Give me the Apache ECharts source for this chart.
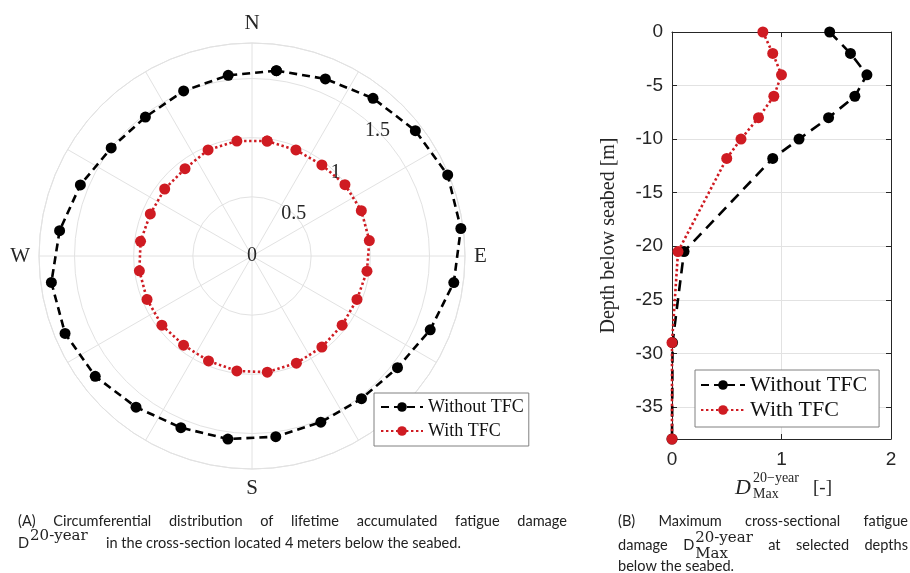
<!DOCTYPE html>
<html>
<head>
<meta charset="utf-8">
<script src="https://cdn.jsdelivr.net/npm/echarts@6/dist/echarts.min.js"></script>
<style>
  html, body { margin: 0; padding: 0; background: #ffffff; }
  #chart { width: 910px; height: 573px; }
</style>
</head>
<body>
<div id="chart"></div>
<script>
// ---- (A) circumferential damage, 4 m below seabed ----
const bearingDeg = [7.5, 22.5, 37.5, 52.5, 67.5, 82.5, 97.5, 112.5, 127.5, 142.5, 157.5, 172.5,
                    187.5, 202.5, 217.5, 232.5, 247.5, 262.5, 277.5, 292.5, 307.5, 322.5, 337.5, 352.5];
const circDamageNoTfc = [1.58, 1.62, 1.68, 1.74, 1.79, 1.78, 1.72, 1.63, 1.55, 1.52, 1.52, 1.54,
                         1.56, 1.57, 1.61, 1.67, 1.71, 1.71, 1.64, 1.57, 1.50, 1.48, 1.51, 1.54];
const circDamageTfc   = [0.98, 0.97, 0.97, 0.99, 1.00, 1.00, 0.98, 0.96, 0.96, 0.97, 0.98, 0.99,
                         0.98, 0.96, 0.95, 0.96, 0.96, 0.96, 0.95, 0.93, 0.93, 0.93, 0.97, 0.98];
const compassLabels = { 0: 'N', 90: 'E', 180: 'S', 270: 'W' };

// ---- (B) maximum cross-sectional damage vs depth ----
const depthBelowSeabed = [0, 2, 4, 6, 8, 10, 11.8, 20.5, 29, 38];   // metres
const maxDamageNoTfc   = [1.44, 1.63, 1.78, 1.67, 1.43, 1.16, 0.92, 0.11, 0.005, 0];
const maxDamageTfc     = [0.83, 0.92, 1.00, 0.93, 0.79, 0.63, 0.50, 0.055, 0, 0];

const seriesNames = ['Without TFC', 'With TFC'];

const SERIF = "'Liberation Serif', 'DejaVu Serif', serif";
const SANS = "'Liberation Sans', Arial, sans-serif";
const CAPTION_FONT = "16px Lato, 'Noto Sans', sans-serif";
const CAPTION_SQUEEZE = 0.91;           // captions are set narrow
const SCRIPT_FONT = "15px 'DejaVu Serif', serif";
const INK = '#262626';
const GRID = '#e2e2e2';
const RED = '#cf1b22';
const TEXT = '#222222';

function closedRing(radii) {
  const pts = bearingDeg.map((b, i) => [radii[i], b]);
  pts.push(pts[0]);
  return pts;
}

const dashedBlack = { color: '#000', width: 2.6, type: [8, 5] };
const dottedRed = { color: RED, width: 2.6, type: [2.4, 2.6] };

// ---------- caption layout helpers ----------
const measureCtx = document.createElement('canvas').getContext('2d');
function textWidth(txt, font) { measureCtx.font = font; return measureCtx.measureText(txt).width; }

function plainText(txt, x, yMid, font, sx) {
  return {
    type: 'text', x: x, y: yMid, scaleX: sx || 1,
    style: { text: txt, font: font, fill: TEXT, verticalAlign: 'middle', align: 'left' }
  };
}
function captionText(txt, x, y) { return plainText(txt, x, y, CAPTION_FONT, CAPTION_SQUEEZE); }
function wordPiece(txt) {
  return { width: textWidth(txt, CAPTION_FONT) * CAPTION_SQUEEZE, build: (x, y) => [captionText(txt, x, y)] };
}
// "D" followed by a superscript and optional subscript
function damageSymbol(sup, sub) {
  const dW = textWidth('D', CAPTION_FONT) * CAPTION_SQUEEZE;
  const sW = Math.max(textWidth(sup, SCRIPT_FONT), sub ? textWidth(sub, SCRIPT_FONT) : 0);
  return {
    width: dW + 1 + sW,
    build: (x, y) => {
      const out = [captionText('D', x, y), plainText(sup, x + dW + 1, y - 7, SCRIPT_FONT)];
      if (sub) out.push(plainText(sub, x + dW + 1, y + 9, SCRIPT_FONT));
      return out;
    }
  };
}
// spread pieces so the line runs flush from x0 to x1
function justified(pieces, x0, x1, y) {
  const total = pieces.reduce((s, p) => s + p.width, 0);
  const gap = (x1 - x0 - total) / (pieces.length - 1);
  let x = x0;
  const out = [];
  pieces.forEach(p => { out.push(...p.build(x, y)); x += p.width + gap; });
  return out;
}

const graphics = [].concat(
  justified(['(A)', 'Circumferential', 'distribution', 'of', 'lifetime', 'accumulated', 'fatigue', 'damage'].map(wordPiece), 18, 567, 521),
  damageSymbol('20-year').build(18, 543),
  [captionText('in the cross-section located 4 meters below the seabed.', 106, 543)],
  justified(['(B)', 'Maximum', 'cross-sectional', 'fatigue'].map(wordPiece), 618, 908, 521),
  justified([wordPiece('damage'), damageSymbol('20-year', 'Max'), wordPiece('at'), wordPiece('selected'), wordPiece('depths')], 618, 908, 545),
  [captionText('below the seabed.', 618, 566)],
  // x-axis title of panel (B)
  [
    { type: 'text', x: 735, y: 488, style: { text: 'D', fontFamily: SERIF, fontStyle: 'italic', fontSize: 22, fill: INK, verticalAlign: 'middle' } },
    { type: 'text', x: 753, y: 478, style: { text: '20\u2212year', fontFamily: SERIF, fontSize: 14, fill: INK, verticalAlign: 'middle' } },
    { type: 'text', x: 753, y: 494, style: { text: 'Max', fontFamily: SERIF, fontSize: 14, fill: INK, verticalAlign: 'middle' } },
    { type: 'text', x: 813, y: 488, style: { text: '[-]', fontFamily: SERIF, fontSize: 19, fill: INK, verticalAlign: 'middle' } }
  ]
);

const chart = echarts.init(document.getElementById('chart'), null, { renderer: 'canvas' });

const legendCommon = {
  orient: 'vertical',
  data: seriesNames,
  selectedMode: false,
  borderColor: '#808080',
  borderWidth: 1,
  backgroundColor: '#ffffff',
  borderRadius: 0
};

const option = {
  backgroundColor: '#ffffff',
  animation: false,
  polar: [
    { center: [252, 256], radius: 213 },
    { center: [252, 256], radius: 213 }
  ],
  angleAxis: [
    {
      polarIndex: 0, type: 'value', min: 0, max: 360, interval: 30,
      startAngle: 90, clockwise: true,
      axisLine: { show: true, lineStyle: { color: GRID, width: 1 } },
      axisTick: { show: false },
      splitLine: { show: true, lineStyle: { color: GRID, width: 1 } },
      axisLabel: {
        formatter: v => compassLabels[v] || '',
        fontFamily: SERIF, fontSize: 21, color: INK, margin: 9
      }
    },
    { polarIndex: 1, type: 'value', min: 0, max: 360, startAngle: 45, show: false }
  ],
  radiusAxis: [
    {
      polarIndex: 0, type: 'value', min: 0, max: 1.8, interval: 0.5,
      axisLine: { show: false }, axisTick: { show: false }, axisLabel: { show: false },
      splitLine: { show: true, lineStyle: { color: GRID, width: 1 } }
    },
    {
      polarIndex: 1, type: 'value', min: 0, max: 1.8, interval: 0.5,
      axisLine: { show: false }, axisTick: { show: false }, splitLine: { show: false },
      axisLabel: {
        showMaxLabel: false, margin: 0, align: 'center', verticalAlign: 'middle',
        fontFamily: SERIF, fontSize: 20, color: INK, formatter: v => String(v)
      }
    }
  ],
  grid: { left: 672, top: 32, width: 219, height: 407, containLabel: false },
  xAxis: [
    {
      gridIndex: 0, type: 'value', min: 0, max: 2, interval: 1, position: 'bottom',
      axisLine: { show: true, onZero: false, lineStyle: { color: INK, width: 1 } },
      axisTick: { show: true, inside: true, length: 5, lineStyle: { color: INK } },
      axisLabel: { fontFamily: SANS, fontSize: 19, color: INK, margin: 11 },
      splitLine: { show: true, lineStyle: { color: GRID, width: 1 } }
    },
    {
      gridIndex: 0, type: 'value', min: 0, max: 2, interval: 1, position: 'top',
      axisLine: { show: true, onZero: false, lineStyle: { color: INK, width: 1 } },
      axisTick: { show: true, inside: true, length: 5, lineStyle: { color: INK } },
      axisLabel: { show: false }, splitLine: { show: false }
    }
  ],
  yAxis: [
    {
      gridIndex: 0, type: 'value', inverse: true, min: 0, max: 38, interval: 5, position: 'left',
      name: 'Depth below seabed [m]', nameLocation: 'middle', nameGap: 53, nameRotate: 90,
      nameTextStyle: { fontFamily: SERIF, fontSize: 20, color: INK },
      axisLine: { show: true, onZero: false, lineStyle: { color: INK, width: 1 } },
      axisTick: { show: true, inside: true, length: 5, lineStyle: { color: INK } },
      axisLabel: {
        fontFamily: SANS, fontSize: 19, color: INK, margin: 9, showMaxLabel: false,
        formatter: v => (v === 0 ? '0' : '-' + v)
      },
      splitLine: { show: true, lineStyle: { color: GRID, width: 1 } }
    },
    {
      gridIndex: 0, type: 'value', inverse: true, min: 0, max: 38, interval: 5, position: 'right',
      axisLine: { show: true, onZero: false, lineStyle: { color: INK, width: 1 } },
      axisTick: { show: true, inside: true, length: 5, lineStyle: { color: INK } },
      axisLabel: { show: false }, splitLine: { show: false }
    }
  ],
  legend: [
    Object.assign({}, legendCommon, {
      left: 374, top: 393, padding: [5, 5, 6, 6], itemGap: 6, itemWidth: 42, itemHeight: 12,
      textStyle: { fontFamily: SERIF, fontSize: 18, color: '#111' }
    }),
    Object.assign({}, legendCommon, {
      left: 695, top: 370, padding: [4, 12, 6, 5], itemGap: 3, itemWidth: 44, itemHeight: 12,
      textStyle: { fontFamily: SERIF, fontSize: 22, color: '#111' }
    })
  ],
  series: [
    {
      name: seriesNames[0], type: 'line', coordinateSystem: 'polar', polarIndex: 0,
      data: closedRing(circDamageNoTfc),
      symbol: 'circle', symbolSize: 11, itemStyle: { color: '#000' },
      lineStyle: dashedBlack, z: 3
    },
    {
      name: seriesNames[1], type: 'line', coordinateSystem: 'polar', polarIndex: 0,
      data: closedRing(circDamageTfc),
      symbol: 'circle', symbolSize: 11, itemStyle: { color: RED },
      lineStyle: dottedRed, z: 4
    },
    {
      name: seriesNames[0], type: 'line', xAxisIndex: 0, yAxisIndex: 0, clip: false,
      data: depthBelowSeabed.map((d, i) => [maxDamageNoTfc[i], d]),
      symbol: 'circle', symbolSize: 11, itemStyle: { color: '#000' },
      lineStyle: { color: '#000', width: 2.6, type: [11, 7] }, z: 3
    },
    {
      name: seriesNames[1], type: 'line', xAxisIndex: 0, yAxisIndex: 0, clip: false,
      data: depthBelowSeabed.map((d, i) => [maxDamageTfc[i], d]),
      symbol: 'circle', symbolSize: 11, itemStyle: { color: RED },
      lineStyle: dottedRed, z: 4
    }
  ],
  graphic: graphics
};

chart.setOption(option);
</script>
</body>
</html>
